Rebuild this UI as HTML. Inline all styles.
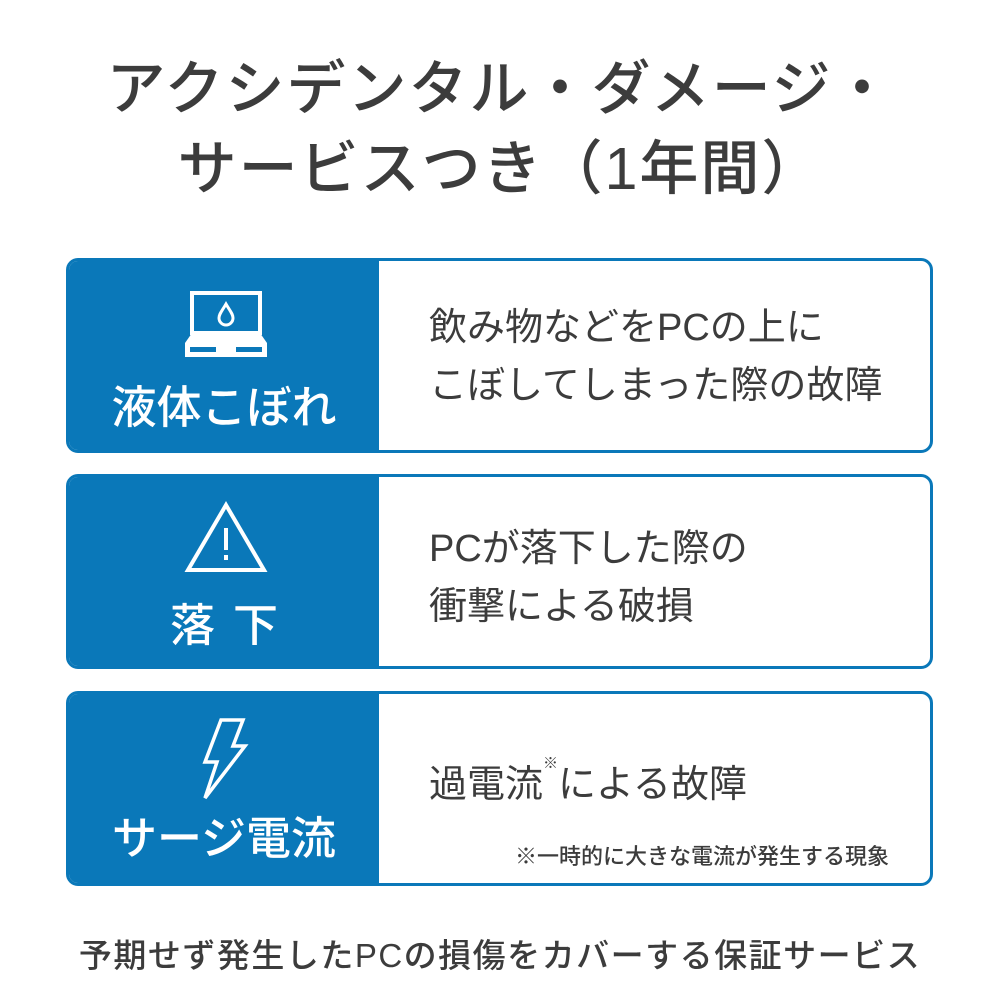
<!DOCTYPE html>
<html><head><meta charset="utf-8"><style>
body{margin:0;width:1000px;height:1000px;background:#fff;position:relative;overflow:hidden;font-family:"Liberation Sans","Noto Sans CJK JP",sans-serif;color:#3c3c3c}
.t{position:absolute;left:0;width:1000px;text-align:center;font-size:59px;font-weight:500;letter-spacing:2px;line-height:1}
.box{position:absolute;left:66px;width:861px;height:189px;border:3px solid #0a78b9;border-radius:12px;overflow:hidden;background:#fff}
.lp{position:absolute;left:0;top:0;width:310px;height:100%;background:#0a78b9;color:#fff}
.lab{position:absolute;left:0;width:310px;text-align:center;font-size:45px;font-weight:500;line-height:1}
.rt{position:absolute;left:360px;font-size:38px;line-height:58px;color:#3c3c3c}
svg{position:absolute}
</style></head><body>
<div class="t" style="top:60px">アクシデンタル・ダメージ・</div>
<div class="t" style="top:140px">サービスつき（1年間）</div>

<div class="box" style="top:258px">
 <div class="lp">
  <svg style="left:114px;top:28px" width="86" height="70" viewBox="0 0 86 70">
   <rect x="9" y="4" width="68" height="40" fill="none" stroke="#fff" stroke-width="4"/>
   <path d="M43 15 C39 22 36 25 36 29 a7 7 0 0 0 14 0 C50 25 47 22 43 15Z" fill="none" stroke="#fff" stroke-width="3"/>
   <path d="M9 44 L2 54 L2 68 L84 68 L84 54 L77 44Z" fill="#fff"/>
   <rect x="7" y="58" width="26" height="5" fill="#0a78b9"/>
   <rect x="53" y="58" width="26" height="5" fill="#0a78b9"/>
  </svg>
  <div class="lab" style="top:124px">液体こぼれ</div>
 </div>
 <div class="rt" style="top:38px">飲み物などをPCの上に<br>こぼしてしまった際の故障</div>
</div>

<div class="box" style="top:474px">
 <div class="lp">
  <svg style="left:114px;top:24px" width="86" height="72" viewBox="0 0 86 72">
   <path d="M43 4 L81 69 L5 69Z" fill="none" stroke="#fff" stroke-width="4" stroke-linejoin="miter"/>
   <rect x="41" y="27" width="4" height="22" fill="#fff"/>
   <rect x="41" y="54" width="4" height="5" fill="#fff"/>
  </svg>
  <div class="lab" style="top:126px;letter-spacing:18px;padding-left:18px;box-sizing:border-box">落下</div>
 </div>
 <div class="rt" style="top:43px">PCが落下した際の<br>衝撃による破損</div>
</div>

<div class="box" style="top:691px">
 <div class="lp">
  <svg style="left:130px;top:24px" width="50" height="82" viewBox="0 0 50 82">
   <path d="M22 2 L44 2 L34 28 L46 28 L6 80 L18 44 L6 44Z" fill="none" stroke="#fff" stroke-width="3.5" stroke-linejoin="miter"/>
  </svg>
  <div class="lab" style="top:122px">サージ電流</div>
 </div>
 <div class="rt" style="top:62px">過電流<sup style="font-size:15px;vertical-align:top;line-height:1">※</sup>による故障</div>
 <div style="position:absolute;left:446px;top:145px;font-size:22px;font-weight:500;color:#3c3c3c">※一時的に大きな電流が発生する現象</div>
</div>

<div style="position:absolute;left:0;width:1000px;top:929px;text-align:center;font-size:33px;font-weight:500;letter-spacing:1.5px">予期せず発生したPCの損傷をカバーする保証サービス</div>
</body></html>
